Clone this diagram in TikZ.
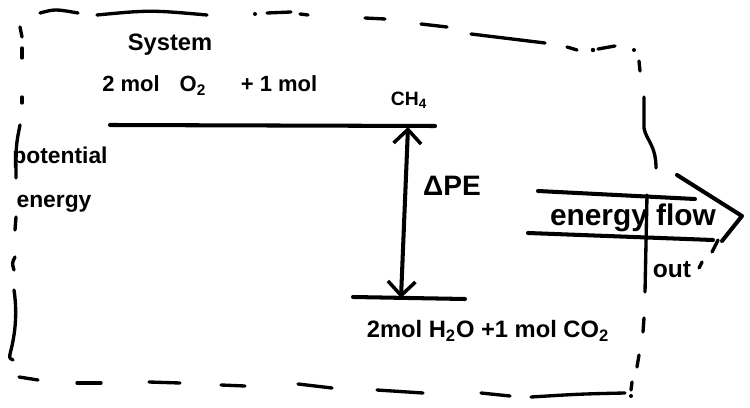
\documentclass[tikz,border=0pt]{standalone}
\usepackage{fontspec}
\setmainfont{Liberation Sans}
\usetikzlibrary{arrows.meta}
\newcommand{\fs}[1]{\fontsize{#1}{#1}\selectfont\bfseries}
\begin{document}
\begin{tikzpicture}[x=0.02cm,y=-0.02cm,
  pen/.style={line width=2.3pt, line cap=round, line join=round},
  thinpen/.style={line width=1.9pt, line cap=round, line join=round},
  hand/.style={inner sep=0pt, text=black},
  barb/.style={{Straight Barb[length=0.28cm,width=0.55cm,line width=2pt]}-{Straight Barb[length=0.28cm,width=0.55cm,line width=2pt]}}
  ]
\useasboundingbox (0,0) rectangle (750,408);
% ---- system boundary (hand-drawn dashes) ----
% top
\draw[thinpen] (40,13) .. controls (55,9) .. (78,13);
\draw[thinpen] (97,15) .. controls (150,10) .. (207,15);
\fill (255,14) circle (2);
\draw[thinpen] (267,13) -- (291,12);
\draw[thinpen] (300,14) -- (308,15);
\draw[thinpen] (365,18) -- (385,19);
\draw[thinpen] (421,24) -- (447,27);
\draw[thinpen] (471,34) -- (545,43);
\draw[thinpen] (567,47) -- (577,50);
\fill (593,50) circle (2.2);
\draw[thinpen] (598,49) -- (615,46);
\fill (634,50) circle (2);
\draw[thinpen] (639,61) -- (640,71);
\draw[thinpen] (644,97) -- (644,128) .. controls (646,140) and (656,145) .. (656,168);
% left
\draw[thinpen] (20,27) -- (22,37);
\draw[thinpen] (22,48) -- (22,58);
\draw[thinpen] (22,97) -- (22,103);
\draw[thinpen] (20,125) .. controls (16,145) .. (16,178);
\draw[thinpen] (16,217) -- (15,230);
\draw[thinpen] (15,257) .. controls (12,263) .. (14,270);
\draw[thinpen] (14,290) .. controls (17,310) and (16,330) .. (11,350) .. controls (9,358) .. (13,360);
% bottom
\draw[thinpen] (19,377) -- (38,380);
\draw[thinpen] (77,383) -- (101,383);
\draw[thinpen] (149,382) -- (180,383);
\draw[thinpen] (221,385) -- (245,386);
\draw[thinpen] (298,384) -- (332,388);
\draw[thinpen] (377,390) -- (423,393);
\draw[thinpen] (481,393) -- (510,396);
\draw[thinpen] (531,397) .. controls (580,394) .. (625,393);
% right lower
\draw[thinpen] (647,195) -- (645,292);
\draw[thinpen] (644,318) -- (643,332);
\draw[thinpen] (639,355) -- (637,367);
\draw[thinpen] (632,382) -- (631,390);
\fill (631,396) circle (2);
\draw[thinpen] (718,240) -- (712,252);
\draw[thinpen] (702,262) -- (699,268);
% ---- energy levels ----
\coordinate (topL) at (110,125);
\coordinate (topR) at (435,126);
\coordinate (botL) at (353,297);
\coordinate (botR) at (465,299);
\draw[pen] (topL) -- (topR);
\draw[pen] (botL) -- (botR);
\coordinate (pTop) at (408,127);
\coordinate (pBot) at (401,298);
\draw[pen, barb] (pTop) -- (pBot);
% ---- energy flow arrow ----
\coordinate (fU1) at (538,191);
\coordinate (fU2) at (695,199);
\coordinate (fL1) at (528,233);
\coordinate (fL2) at (713,240);
\coordinate (h1) at (677,175);
\coordinate (h2) at (742,216);
\coordinate (h3) at (722,241);
\draw[pen] (fU1) -- (fU2);
\draw[pen] (fL1) -- (fL2);
\draw[pen] (h1) -- (h2) -- (h3);
% ---- texts ----
\node[hand, font=\fs{13.5}] (sys) at (170,45) {System};
\node[hand, font=\fs{12.5}] (r1) at (131,84) {2 mol};
\node[hand, font=\fs{12.5}] (r2) at (193,86) {O\textsubscript{2}};
\node[hand, font=\fs{12.5}] (r3) at (279,84) {+ 1 mol};
\node[hand, font=\fs{11}] (r4) at (409,100) {CH\textsubscript{4}};
\node[hand, font=\fs{13}] (pe1) at (60,158) {potential};
\node[hand, font=\fs{13}] (pe2) at (54,204) {energy};
\node[hand, font=\fs{16}] (dpe) at (452,186) {ΔPE};
\node[hand, font=\fs{17}] (ef) at (633,218) {energy flow};
\node[hand, font=\fs{14}] (out) at (672,270) {out};
\node[hand, font=\fs{13.5}] (prod) at (488,331) {2mol H\textsubscript{2}O +1 mol CO\textsubscript{2}};
\end{tikzpicture}
\end{document}
